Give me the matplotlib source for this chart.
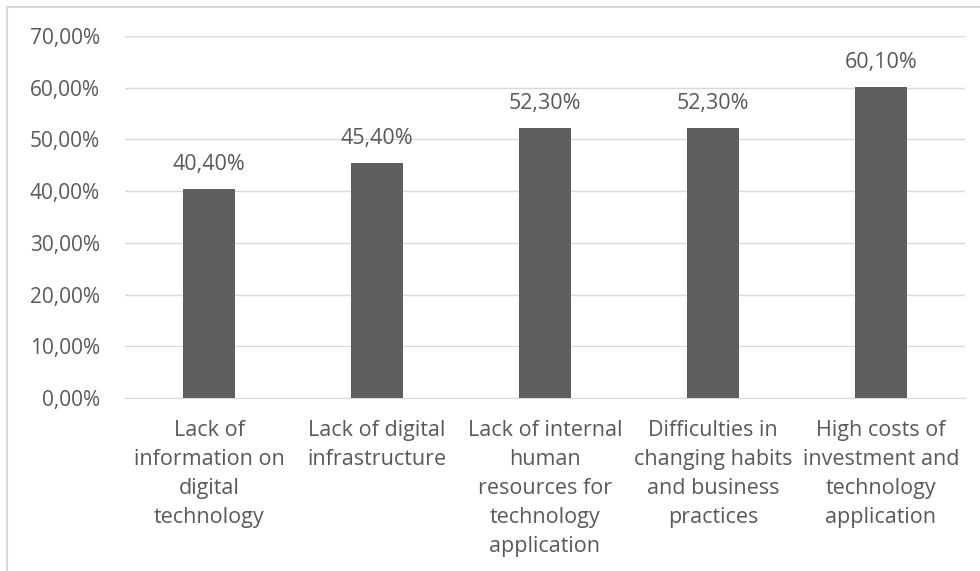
import matplotlib.pyplot as plt
from matplotlib.patches import Rectangle

# dados do gráfico
categorias = [
    "Lack of\ninformation on\ndigital\ntechnology",
    "Lack of digital\ninfrastructure",
    "Lack of internal\nhuman\nresources for\ntechnology\napplication",
    "Difficulties in\nchanging habits\nand business\npractices",
    "High costs of\ninvestment and\ntechnology\napplication",
]
valores = [40.4, 45.4, 52.3, 52.3, 60.1]
ticks_y = [0, 10, 20, 30, 40, 50, 60, 70]

cor_texto = "#595959"
cor_barra = "#5f5f5f"
cor_grade = "#d9d9d9"

plt.rcParams['font.family'] = ['Open Sans', 'DejaVu Sans']

fig = plt.figure(figsize=(9.8, 5.71), dpi=100)
ax = fig.add_axes([125 / 980, 1 - 398 / 571, 840 / 980, 362 / 571])

x = list(range(len(categorias)))
barras = ax.bar(x, valores, width=0.31, color=cor_barra, zorder=3)

for xi, v in zip(x, valores):
    ax.annotate(f"{v:.2f}%".replace(".", ","), (xi, v), xytext=(0, 10),
                textcoords="offset points", ha="center", va="bottom",
                fontsize=15.5, color=cor_texto)

ax.set_xlim(-0.5, len(categorias) - 0.5)
ax.set_ylim(0, 70)
ax.set_yticks(ticks_y)
ax.set_yticklabels([f"{t:.2f}%".replace(".", ",") for t in ticks_y])
ax.set_xticks(x)
ax.set_xticklabels(categorias, linespacing=1.49)

ax.grid(axis="y", color=cor_grade, linewidth=1, zorder=0)
for lado in ["top", "right", "left"]:
    ax.spines[lado].set_visible(False)
ax.spines["bottom"].set_color(cor_grade)
ax.tick_params(axis="both", length=0, labelsize=15, colors=cor_texto)
ax.tick_params(axis="x", labelsize=15.5)
ax.tick_params(axis="y", pad=18)
ax.tick_params(axis="x", pad=16)

# moldura do gráfico
fig.patches.append(Rectangle((7 / 980, -0.1), 1.1, 1 - 7 / 571 + 0.1,
                             transform=fig.transFigure, fill=False,
                             edgecolor=cor_grade, linewidth=1.5))

fig.savefig("out.png", dpi=100)
